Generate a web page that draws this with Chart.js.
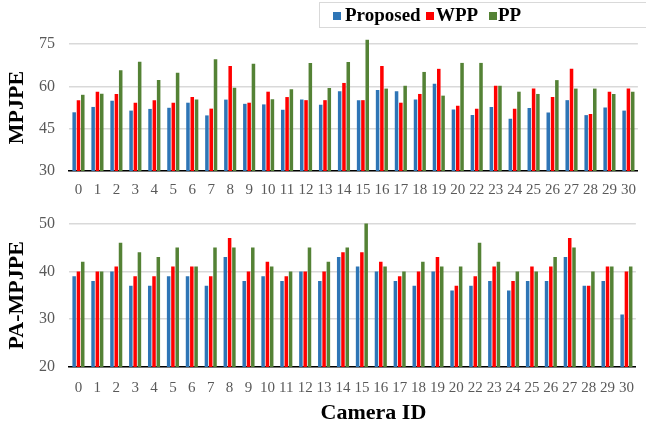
<!DOCTYPE html>
<html>
<head>
<meta charset="utf-8">
<script src="https://cdn.jsdelivr.net/npm/chart.js@4/dist/chart.umd.min.js"></script>
<style>
    body { margin: 0; background: #fff; }
    #wrap { position: relative; width: 646px; height: 428px; overflow: hidden; }
    #topChart { position: absolute; left: 0; top: 0; }
    #bottomChart { position: absolute; left: 0; top: 200px; }
    .legend {
        position: absolute; left: 319px; top: 2px; width: 330px; height: 26px;
        border: 1px solid #d9d9d9; border-right: none; box-sizing: border-box;
        font: bold 19px 'Liberation Serif', 'Times New Roman', serif; color: #000;
    }
    .legend span { position: absolute; top: 1px; white-space: nowrap; }
    .legend i { position: absolute; top: 9px; width: 8px; height: 8px; }
</style>
</head>
<body>
<div id="wrap">
    <canvas id="topChart" width="646" height="200"></canvas>
    <canvas id="bottomChart" width="646" height="228"></canvas>
    <div class="legend">
        <i style="left:13px;background:#2e75b6"></i><span style="left:25px">Proposed</span>
        <i style="left:106px;background:#ff0000"></i><span style="left:116px">WPP</span>
        <i style="left:169px;background:#548235"></i><span style="left:178px">PP</span>
    </div>
</div>
<script>
// kamera numaralari (21 yok)
const cameras = ['0', '1', '2', '3', '4', '5', '6', '7', '8', '9', '10', '11', '12', '13', '14',
    '15', '16', '17', '18', '19', '20', '22', '23', '24', '25', '26', '27', '28', '29', '30'];

// MPJPE degerleri
const mpjpeProposed = [50.8, 52.7, 54.9, 51.4, 52.0, 52.4, 54.2, 49.7, 55.3, 53.8,
    53.6, 51.7, 55.3, 53.5, 58.3, 55.1, 58.7, 58.3, 55.3, 60.9,
    51.8, 49.8, 52.7, 48.5, 52.3, 50.7, 55.1, 49.8, 52.5, 51.4];
const mpjpeWpp = [55.1, 58.1, 57.3, 54.2, 55.1, 54.2, 56.2, 52.1, 67.2, 54.2,
    58.1, 56.2, 55.1, 55.1, 61.2, 55.1, 67.2, 54.2, 57.3, 66.2,
    53.1, 52.1, 60.2, 52.1, 59.2, 56.2, 66.2, 50.2, 58.1, 59.2];
const mpjpePp = [57.0, 57.4, 65.7, 68.7, 62.2, 64.8, 55.3, 69.6, 59.5, 68.0,
    55.4, 59.0, 68.3, 59.4, 68.6, 76.5, 59.2, 60.2, 65.1, 56.7,
    68.3, 68.3, 60.2, 58.1, 57.3, 62.2, 59.2, 59.2, 57.3, 58.1];

// PA-MPJPE degerleri
const paProposed = [39, 38, 40, 37, 37, 39, 39, 37, 43, 38, 39, 38, 40, 38, 43,
    41, 40, 38, 37, 40, 36, 37, 38, 36, 38, 38, 43, 37, 38, 31];
const paWpp = [40, 40, 41, 39, 39, 41, 41, 39, 47, 40, 42, 39, 40, 40, 44,
    44, 42, 39, 40, 43, 37, 39, 41, 38, 41, 41, 47, 37, 41, 40];
const paPp = [42, 40, 46, 44, 43, 45, 41, 45, 45, 45, 41, 40, 45, 42, 45,
    50, 41, 40, 42, 41, 41, 46, 42, 40, 40, 43, 45, 40, 41, 41];

// eksen ayarlari
const mpjpeTicks = { min: 30, max: 75, step: 15 };
const paTicks = { min: 20, max: 50, step: 10 };

const serif = "'Liberation Serif', 'Times New Roman', serif";
const colors = ['#2e75b6', '#ff0000', '#548235'];
const names = ['Proposed', 'WPP', 'PP'];

function makeChart(canvasId, series, ticks, yTitle, opts) {
    const ctx = document.getElementById(canvasId).getContext('2d');
    return new Chart(ctx, {
        type: 'bar',
        data: {
            labels: cameras,
            datasets: series.map((data, i) => ({
                label: names[i],
                data: data,
                backgroundColor: colors[i],
                borderWidth: 0,
                barPercentage: 0.82,
                categoryPercentage: 0.68,
                // ust tarafta tasmaya izin ver (15 numarali kamera)
                clip: { left: 5, top: 12, right: 5, bottom: 0 }
            }))
        },
        options: {
            responsive: false,
            animation: false,
            layout: { padding: { top: opts.top, right: 5, bottom: 0, left: 0 } },
            plugins: { legend: { display: false }, tooltip: { enabled: false } },
            scales: {
                x: {
                    grid: { display: false, drawTicks: false },
                    border: { display: true, color: '#000', width: 1.5 },
                    ticks: {
                        color: '#595959',
                        font: { family: serif, size: 15 },
                        padding: opts.xPad,
                        maxRotation: 0,
                        autoSkip: false
                    },
                    afterFit: scale => { scale.height = opts.xHeight; }
                },
                y: {
                    min: ticks.min,
                    max: ticks.max,
                    grid: { color: '#d9d9d9', lineWidth: 1.5, drawTicks: false },
                    border: { display: false },
                    ticks: {
                        stepSize: ticks.step,
                        color: '#595959',
                        font: { family: serif, size: 16 },
                        padding: 14
                    },
                    title: {
                        display: true,
                        text: yTitle,
                        color: '#000',
                        font: { family: serif, size: 22, weight: 'bold' },
                        padding: { top: 4, bottom: 0 }
                    },
                    afterFit: scale => { scale.width = 69; }
                }
            }
        },
        plugins: opts.plugins || []
    });
}

// "Camera ID" basligi biraz saga kaymis
const xTitlePlugin = {
    id: 'xTitle',
    afterDraw(chart) {
        const c = chart.ctx;
        const area = chart.chartArea;
        c.save();
        c.font = 'bold 22px ' + serif;
        c.fillStyle = '#000';
        c.textAlign = 'center';
        c.textBaseline = 'middle';
        c.fillText('Camera ID', (area.left + area.right) / 2 + 21, 213);
        c.restore();
    }
};

makeChart('topChart', [mpjpeProposed, mpjpeWpp, mpjpePp], mpjpeTicks, 'MPJPE',
    { top: 44, xHeight: 29, xPad: 10 });
makeChart('bottomChart', [paProposed, paWpp, paPp], paTicks, 'PA-MPJPE',
    { top: 20, xHeight: 61, xPad: 12, plugins: [xTitlePlugin] });
</script>
</body>
</html>
